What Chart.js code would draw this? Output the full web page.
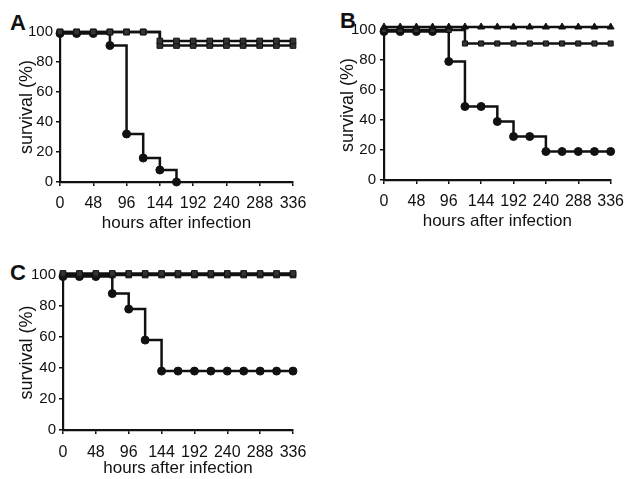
<!DOCTYPE html>
<html><head><meta charset="utf-8">
<script src="https://cdn.jsdelivr.net/npm/chart.js@4/dist/chart.umd.min.js"></script>
<style>
html,body{margin:0;padding:0;background:#fff;width:632px;height:479px;overflow:hidden;}
canvas{position:absolute;}
.lab{position:absolute;font:bold 22px 'Liberation Sans',Arial,sans-serif;color:#111;line-height:1;}
</style></head><body>
<div class="lab" style="left:10px;top:12px">A</div>
<div class="lab" style="left:340px;top:10px">B</div>
<div class="lab" style="left:10px;top:262px">C</div>
<canvas id="cA" width="316" height="238" style="left:0;top:0"></canvas>
<canvas id="cB" width="316" height="238" style="left:316px;top:0"></canvas>
<canvas id="cC" width="316" height="239" style="left:0;top:240px"></canvas>
<script>
// ---- data ----
const hours = [0,24,48,72,96,120,144,168,192,216,240,264,288,312,336];
const xTickLabels = [0,48,96,144,192,240,288,336];
const yTickLabels = [0,20,40,60,80,100];

// Panel A
const aCircleHours = [0,24,48,72,96,120,144,168];
const aCircle  = [99,99,99,91,32,16,8,0];
const aSquare1 = [100,100,100,100,100,100,94,94,94,94,94,94,94,94,94];
const aSquare2 = [100,100,100,100,100,100,91,91,91,91,91,91,91,91,91];
// Panel B
const bTriangle = [102,102,102,102,102,102,102,102,102,102,102,102,102,102,102];
const bSquare   = [100,100,100,100,100,91,91,91,91,91,91,91,91,91,91];
const bCircle   = [99,99,99,99,79,49,49,39,29,29,19,19,19,19,19];
// Panel C
const cSquare1 = [101,101,101,101,101,101,101,101,101,101,101,101,101,101,101];
const cSquare2 = [100,100,100,100,100,100,100,100,100,100,100,100,100,100,100];
const cCircle  = [99,99,99,88,78,58,38,38,38,38,38,38,38,38,38];

const pts = (xs, ys) => ys.map((v,i)=>({x:xs[i], y:v}));
const INK = '#111';
const FAM = "'Liberation Sans', Arial, sans-serif";

function ds(data, style, fill, r){
  return {data, borderColor:INK, borderWidth:2.5, stepped:'before', clip:false,
    pointStyle:style, pointRadius:r||4, pointBackgroundColor:fill||INK,
    pointBorderColor:INK, pointBorderWidth:1, fill:false, tension:0};
}

function makeChart(id, datasets, L){
  new Chart(document.getElementById(id), {
    type:'line',
    data:{datasets},
    options:{
      responsive:false, animation:false, events:[],
      plugins:{legend:{display:false}, tooltip:{enabled:false}},
      layout:{padding:{top:L.top, right:L.right, left:0, bottom:0}},
      scales:{
        x:{type:'linear', min:0, max:336,
          afterBuildTicks:s=>{s.ticks = xTickLabels.map(v=>({value:v}));},
          afterFit:s=>{s.height = L.xh;},
          grid:{drawOnChartArea:false, drawTicks:true, tickLength:4, color:INK, lineWidth:1.5},
          border:{display:true, color:INK, width:2.2},
          ticks:{color:INK, padding:L.xp, maxRotation:0, autoSkip:false,
            font:{family:FAM, size:16}},
          title:{display:true, text:'hours after infection', color:INK,
            font:{family:FAM, size:17},
            padding:{top:0,bottom:L.tb}}
        },
        y:{type:'linear', min:0, max:100,
          afterBuildTicks:s=>{s.ticks = yTickLabels.map(v=>({value:v}));},
          afterFit:s=>{s.width = L.yw;},
          grid:{drawOnChartArea:false, drawTicks:true, tickLength:4, color:INK, lineWidth:1.5},
          border:{display:true, color:INK, width:2.2},
          ticks:{color:INK, padding:L.yp,
            font:{family:FAM, size:15}},
          title:{display:true, text:'survival (%)', color:INK,
            font:{family:FAM, size:18},
            padding:{top:L.tl,bottom:0}}
        }
      }
    }
  });
}

makeChart('cA', [
  ds(pts(hours,aSquare1),'rect','#333',4),
  ds(pts(hours,aSquare2),'rect','#333',4),
  ds(pts(aCircleHours,aCircle),'circle')
], {top:32, right:23, xh:56, yw:60, tb:4, tl:16, yp:3, xp:8});

makeChart('cB', [
  ds(pts(hours,bTriangle),'triangle',INK,4),
  ds(pts(hours,bSquare),'rect','#333',3.6),
  ds(pts(hours,bCircle),'circle')
], {top:30, right:17, xh:58, yw:68, tb:6, tl:21, yp:4, xp:8});

makeChart('cC', [
  ds(pts(hours,cSquare1),'rect','#333',4),
  ds(pts(hours,cSquare2),'rect','#333',4),
  ds(pts(hours,cCircle),'circle')
], {top:35, right:23, xh:49, yw:63, tb:0, tl:16, yp:3, xp:9});
</script>
</body></html>
